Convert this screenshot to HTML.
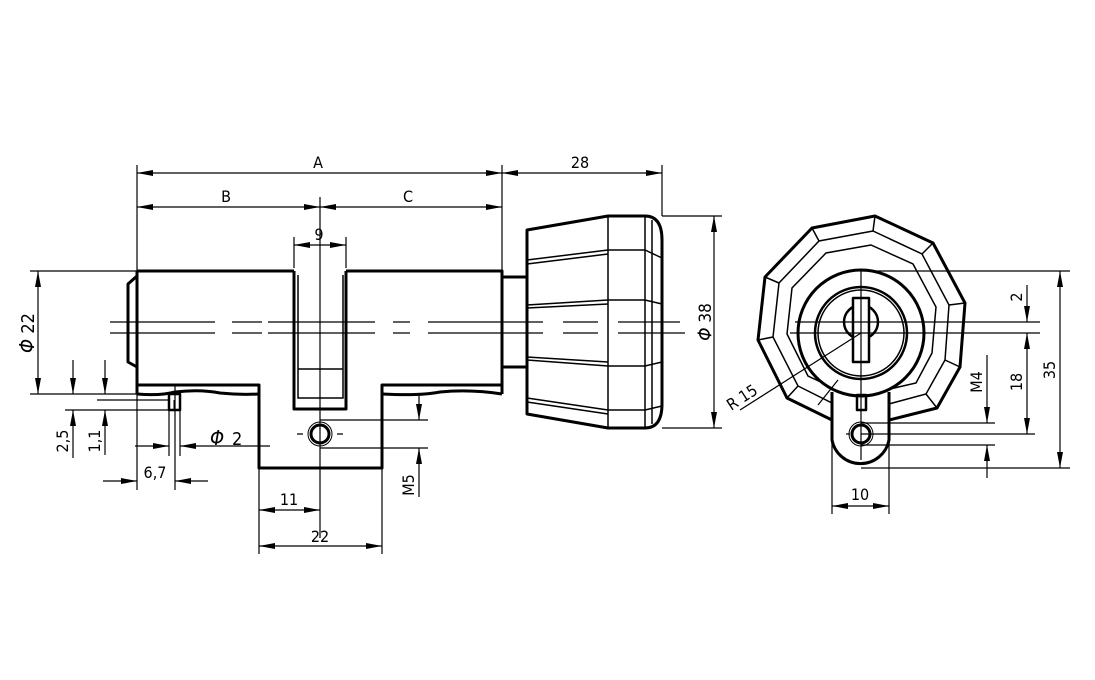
<!DOCTYPE html>
<html><head><meta charset="utf-8"><style>html,body{margin:0;padding:0;background:#fff}svg{display:block}text{font-family:"DejaVu Sans Condensed","Liberation Sans Narrow","Liberation Sans",sans-serif;fill:#000}</style></head><body>
<svg width="1095" height="680" viewBox="0 0 1095 680" xmlns="http://www.w3.org/2000/svg">
<defs>
<marker id="a" viewBox="0 0 16 6" refX="16" refY="3" markerWidth="16" markerHeight="6" orient="auto-start-reverse" markerUnits="userSpaceOnUse"><path d="M0,0 L16,3 L0,6 Z" fill="#000"/></marker>
</defs>
<g fill="none" stroke="#000">
<!-- main body -->
<g stroke-width="3" stroke-linejoin="round">
<path d="M137,271 H294 M346,271 H502 V394 M137,271 V394"/>
<path d="M137,276 L128,284 V362 L137,367"/>
<path d="M294,271 V409 H346 V271"/>
<path d="M137,385 H259 V468 H382 V385 H502"/>
<path d="M137,394 Q160,396 175,392 Q200,389 220,393 Q240,395 259,394"/>
<path d="M382,394 Q420,396 440,392 Q470,389 502,394"/>
<path d="M502,277 H527 M502,367 H527"/>
<rect x="169" y="394" width="11" height="16" stroke-width="2.5"/>
<path d="M527,230 L608,216 H645 Q662,216 662,240 V404 Q662,428 645,428 H608 L527,414 Z"/>
<circle cx="320" cy="434" r="9"/>
</g>
<g stroke-width="1.5">
<path d="M298,275 V398 H343 V275 M298,369 H343"/>
<path d="M608,216 V428 M645,216 V428 M652,220 V424"/>
<path d="M527,260 L608,250 H645 L662,258 M527,264 L608,254"/>
<path d="M527,305 L608,300 H645 L662,304 M527,308 L608,304"/>
<path d="M527,360 L608,366 H645 L662,362 M527,357 L608,362"/>
<path d="M527,402 L608,414 M527,398 L608,410 H645 L662,406"/>
<circle cx="320" cy="434" r="12" stroke-width="1"/>
<path d="M174,400 V410" stroke-width="1"/>
</g>
<!-- centerlines -->
<g stroke-width="1.2">
<path d="M110,322 H215 M232,322 H262 M268,322 H375 M393,322 H410 M428,322 H543 M563,322 H598 M618,322 H680"/>
<path d="M110,333 H215 M232,333 H262 M268,333 H375 M393,333 H410 M428,333 H543 M563,333 H598 M618,333 H685"/>
<path d="M320,197 V538"/>
<path d="M297,434 H303 M337,434 H343"/>
</g>
<!-- dimension lines -->
<g stroke-width="1.2">
<path d="M137,165 V394 M502,165 V277 M662,165 V216"/>
<path d="M137,173 H502" marker-start="url(#a)" marker-end="url(#a)"/>
<path d="M502,173 H662" marker-start="url(#a)" marker-end="url(#a)"/>
<path d="M137,207 H320" marker-start="url(#a)" marker-end="url(#a)"/>
<path d="M320,207 H502" marker-start="url(#a)" marker-end="url(#a)"/>
<path d="M294,237 V268 M346,237 V268"/>
<path d="M294,245 H346" marker-start="url(#a)" marker-end="url(#a)"/>
<path d="M30,271 H137 M30,394 H137"/>
<path d="M38,271 V394" marker-start="url(#a)" marker-end="url(#a)"/>
<path d="M662,216 H722 M662,428 H722"/>
<path d="M714,216 V428" marker-start="url(#a)" marker-end="url(#a)"/>
<path d="M97,400 H170 M65,410 H170"/>
<path d="M73,360 V394" marker-end="url(#a)"/><path d="M73,458 V410" marker-end="url(#a)"/>
<path d="M105,360 V394" marker-end="url(#a)"/><path d="M105,455 V410" marker-end="url(#a)"/>
<path d="M137,394 V490 M175,385 V490 M169,410 V456 M180,410 V456"/>
<path d="M103,481 H137" marker-end="url(#a)"/><path d="M208,481 H175" marker-end="url(#a)"/>
<path d="M135,446 H169" marker-end="url(#a)"/><path d="M270,446 H180" marker-end="url(#a)"/>
<path d="M320,420 H428 M320,448 H428"/>
<path d="M419,396 V420" marker-end="url(#a)"/><path d="M419,497 V448" marker-end="url(#a)"/>
<path d="M259,468 V554 M382,468 V554"/>
<path d="M259,510 H320" marker-start="url(#a)" marker-end="url(#a)"/>
<path d="M259,546 H382" marker-start="url(#a)" marker-end="url(#a)"/>
</g>
<!-- right view -->
<polygon points="875,216 812,228 765,277 758,340 787,398 832,420 889,420 937,408 960,367 965,303 933,243" stroke-width="3" stroke-linejoin="round"/>
<g stroke-width="1.5">
<polygon points="873,231 819,241 779,283 773,337 798,386 836,405 885,405 926,394 945,360 949,305 922,254"/>
<polygon points="871,245 826,253 792,288 787,334 808,376 840,391 881,391 916,383 932,353 936,307 913,264"/>
<path d="M875,216 L873,231 M812,228 L819,241 M765,277 L779,283 M758,340 L773,337 M787,398 L798,386 M937,408 L926,394 M960,367 L945,360 M965,303 L949,305 M933,243 L922,254"/>
</g>
<g stroke-width="3" stroke-linejoin="round">
<path d="M832,392 V440 A29,29 0 0 0 889,440 V392" fill="#fff"/>
<circle cx="861" cy="333" r="63" fill="#fff"/>
<circle cx="861" cy="333" r="46" stroke-width="2.5"/>
<circle cx="861" cy="322" r="17" stroke-width="2.5"/>
<rect x="853" y="298" width="16" height="64" stroke-width="2.5" fill="#fff"/>
<rect x="857" y="395" width="9" height="15" stroke-width="2.5"/>
<circle cx="861" cy="434" r="9"/>
</g>
<g stroke-width="1.5">
<circle cx="861" cy="333" r="43"/>
<circle cx="861" cy="434" r="12" stroke-width="1"/>
</g>
<g stroke-width="1.2" fill="none" stroke="#000">
<path d="M795,322 H1040 M790,333 H1040"/>
<path d="M861,270 V460"/>
<path d="M861,271 H1070 M861,468 H1070 M861,434 H1035 M861,423 H995 M861,445 H995"/>
<path d="M832,440 V514 M889,440 V514"/>
<path d="M1027,285 V322" marker-end="url(#a)"/>
<path d="M1027,333 V434" marker-start="url(#a)" marker-end="url(#a)"/>
<path d="M1060,271 V468" marker-start="url(#a)" marker-end="url(#a)"/>
<path d="M987,355 V423" marker-end="url(#a)"/><path d="M987,478 V445" marker-end="url(#a)"/>
<path d="M832,506 H889" marker-start="url(#a)" marker-end="url(#a)"/>
<path d="M861,333 L740,410"/>
<path d="M838,380 L818,405"/>
<path d="M846,434 H850"/>
</g>
</g>
<g font-size="16">
<text x="318" y="168" text-anchor="middle">A</text>
<text x="226" y="202" text-anchor="middle">B</text>
<text x="408" y="202" text-anchor="middle">C</text>
<text x="319" y="240" text-anchor="middle">9</text>
<text x="580" y="168" text-anchor="middle">28</text>
<text x="155" y="478" text-anchor="middle">6,7</text>
<text x="289" y="505" text-anchor="middle">11</text>
<text x="320" y="542" text-anchor="middle">22</text>
<text x="860" y="500" text-anchor="middle">10</text>
<text x="210" y="445" font-size="20" font-style="italic">Φ</text><text x="232" y="445" font-size="18">2</text>
<text transform="translate(34,333) rotate(-90)" text-anchor="middle" font-size="18"><tspan font-style="italic" font-size="20">Φ</tspan> 22</text>
<text transform="translate(711,322) rotate(-90)" text-anchor="middle" font-size="17"><tspan font-style="italic" font-size="19">Φ</tspan> 38</text>
<text transform="translate(68,441) rotate(-90)" text-anchor="middle">2,5</text>
<text transform="translate(100,441) rotate(-90)" text-anchor="middle">1,1</text>
<text transform="translate(414,485) rotate(-90)" text-anchor="middle">M5</text>
<text transform="translate(982,382) rotate(-90)" text-anchor="middle">M4</text>
<text transform="translate(1022,382) rotate(-90)" text-anchor="middle">18</text>
<text transform="translate(1055,370) rotate(-90)" text-anchor="middle">35</text>
<text transform="translate(1022,297) rotate(-90)" text-anchor="middle">2</text>
<text transform="translate(745,402) rotate(-33)" text-anchor="middle">R 15</text>
</g>
</svg>
</body></html>
